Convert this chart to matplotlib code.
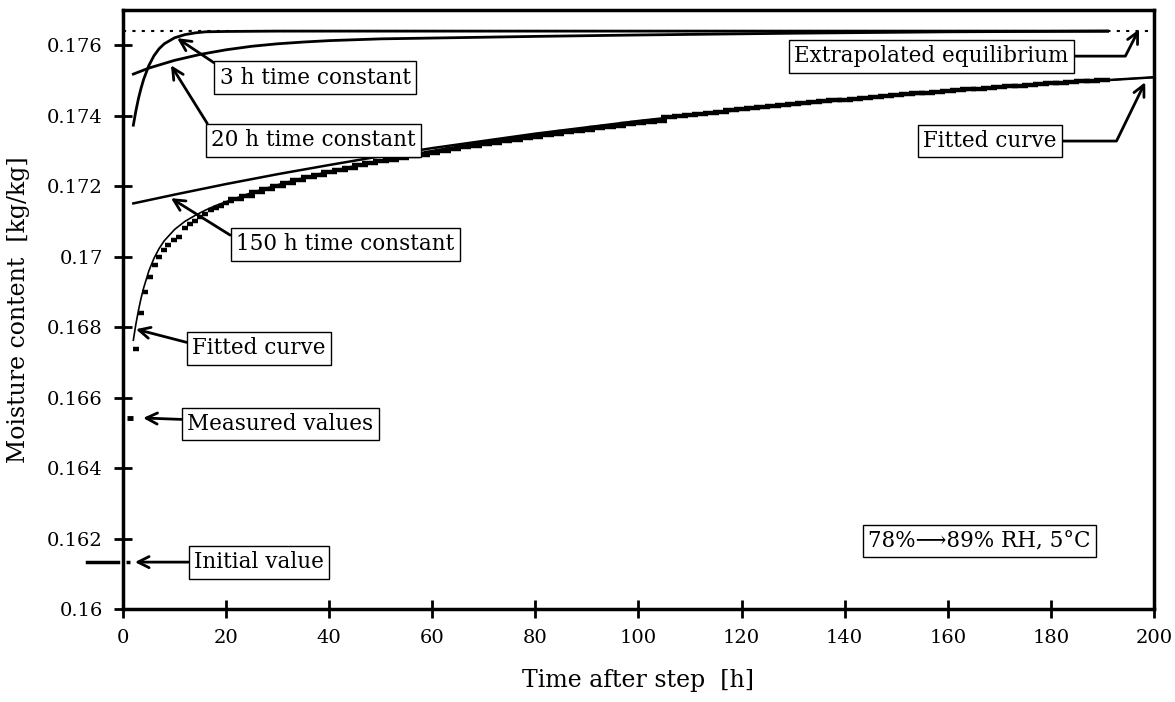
import matplotlib
matplotlib.use("Agg")
import matplotlib.pyplot as plt

plt.rcParams['font.family'] = ['DejaVu Serif', 'DejaVu Sans']

# values
t_fit = [2, 2.5, 3, 3.5, 4, 5, 6, 7, 8, 10, 12, 14, 16, 18, 20, 25, 30, 35, 40,
         50, 60, 70, 80, 90, 100, 120, 140, 160, 180, 200]
m_fit = [0.16763, 0.16809, 0.16848, 0.16882, 0.16911, 0.16959, 0.16995, 0.17023,
         0.17045, 0.17077, 0.17100, 0.17117, 0.17132, 0.17145, 0.17156, 0.17182,
         0.17204, 0.17224, 0.17242, 0.17274, 0.17301, 0.17325, 0.17347, 0.17366,
         0.17384, 0.17417, 0.17445, 0.17469, 0.17491, 0.17509]

t_3h = [2, 2.5, 3, 3.5, 4, 5, 6, 7, 8, 10, 12, 14, 16, 20, 30, 191]
m_3h = [0.17373, 0.17414, 0.17449, 0.17478, 0.17503, 0.17542, 0.17570, 0.17590,
        0.17604, 0.17621, 0.17630, 0.17635, 0.17638, 0.17639, 0.17640, 0.17640]

t_20h = [2, 5, 10, 15, 20, 25, 30, 35, 40, 50, 63, 80, 100, 130, 160, 191]
m_20h = [0.17518, 0.17535, 0.17557, 0.17574, 0.17587, 0.17597, 0.17604, 0.17609,
         0.17613, 0.17618, 0.17621, 0.17625, 0.17629, 0.17634, 0.17638, 0.17640]

t_150h = [2, 10, 20, 30, 40, 50, 60, 80, 100, 120, 140, 160, 180, 200]
m_150h = [0.17151, 0.17176, 0.17206, 0.17234, 0.17260, 0.17285, 0.17308, 0.17349,
          0.17385, 0.17417, 0.17445, 0.17469, 0.17491, 0.17509]

# measured, hourly at start
t_meas1 = [2.5, 3.4, 4.3, 5.2, 6.2, 7.0, 8.0, 8.8, 9.9, 10.8, 12, 13, 14, 15, 16,
           17, 18, 19, 20, 21]
m_meas1 = [0.16738, 0.16840, 0.16899, 0.16942, 0.16976, 0.16999, 0.17018, 0.17033,
           0.17047, 0.17055, 0.17080, 0.17092, 0.17102, 0.17113, 0.17122, 0.17131,
           0.17138, 0.17145, 0.17151, 0.17158]
# measured, later part (every 2 h)
t_meas2 = list(range(22, 191, 2))
m_meas2 = [0.171634, 0.171733, 0.171827, 0.171917, 0.172003, 0.172095, 0.172173,
           0.172249, 0.172321, 0.172391, 0.172459, 0.172524, 0.172587, 0.172648,
           0.172707, 0.172735, 0.172790, 0.172845, 0.172898, 0.172949, 0.173000,
           0.173049, 0.173097, 0.173144, 0.173190, 0.173235, 0.173279, 0.173322,
           0.173365, 0.173406, 0.173447, 0.173487, 0.173527, 0.173566, 0.173603,
           0.173641, 0.173678, 0.173714, 0.173750, 0.173785, 0.173819, 0.173853,
           0.173957, 0.173990, 0.174023, 0.174055, 0.174086, 0.174117, 0.174148,
           0.174178, 0.174208, 0.174237, 0.174266, 0.174295, 0.174323, 0.174351,
           0.174378, 0.174406, 0.174432, 0.174458, 0.174484, 0.174510, 0.174535,
           0.174560, 0.174585, 0.174610, 0.174633, 0.174657, 0.174680, 0.174703,
           0.174726, 0.174748, 0.174770, 0.174792, 0.174813, 0.174834, 0.174855,
           0.174876, 0.174896, 0.174916, 0.174936, 0.174956, 0.174975, 0.174994,
           0.175012]

m_eq = 0.1764
t_init = [-7, -1]
m_init = [0.16133, 0.16133]
m_legend_meas = 0.16542

fig = plt.figure(figsize=(11.75, 7.02), dpi=100)
ax = fig.add_axes([0.1047, 0.1325, 0.8774, 0.8533])

ax.plot([0, 200], [m_eq, m_eq], ls=(0, (1.5, 3)), color='black', lw=1.5)
ax.plot(t_3h, m_3h, color='black', lw=2)
ax.plot(t_20h, m_20h, color='black', lw=2)
ax.plot(t_150h, m_150h, color='black', lw=1.8)
ax.plot(t_fit, m_fit, color='black', lw=1.2)
ax.plot(t_meas1, m_meas1, ls='none', marker='_', ms=5, mew=3.2, color='black')
ax.plot(t_meas2, m_meas2, ls='none', marker='_', ms=11, mew=3.2, color='black')
ax.plot(t_init, m_init, color='black', lw=2.5, clip_on=False)
ax.plot([0.9], [m_init[0]], ls='none', marker='_', ms=3, mew=2.5, color='black')
ax.plot([1.4], [m_legend_meas], ls='none', marker='_', ms=5, mew=3.5, color='black')

box = dict(boxstyle='square,pad=0.25', fc='white', ec='black', lw=1)
fs = 15.5


def note(text, xy, xytext, rel, conn='arc3'):
    ax.annotate(text, xy=xy, xytext=xytext, ha='center', va='center', fontsize=fs,
                bbox=box,
                arrowprops=dict(arrowstyle='->', lw=2, color='black', mutation_scale=20,
                                relpos=rel, shrinkA=0, shrinkB=0,
                                connectionstyle=conn))


note('3 h time constant', (10.5, 0.17620), (37.3, 0.17508), (0, 1))
note('20 h time constant', (9.3, 0.17543), (36.9, 0.17330), (0, 1))
note('150 h time constant', (9.3, 0.17166), (43.1, 0.17035), (0, 0.75))
note('Fitted curve', (2.5, 0.16794), (26.4, 0.16740), (0, 0.7))
note('Measured values', (3.9, 0.16542), (30.5, 0.16525), (0, 0.7))
note('Initial value', (2.3, 0.16133), (26.4, 0.16133), (0, 0.5))
note('Extrapolated equilibrium', (197.1, 0.17645), (156.8, 0.17569), (1, 0.5),
     'angle,angleA=0,angleB=63,rad=0')
note('Fitted curve', (198.3, 0.17495), (168.2, 0.17328), (1, 0.5),
     'angle,angleA=0,angleB=64,rad=0')

ax.text(166.2, 0.16193, '78%\u27f689% RH, 5°C', ha='center', va='center',
        fontsize=fs, bbox=box)

ax.set_xlim(0, 200)
ax.set_ylim(0.16, 0.177)
ax.set_xticks(range(0, 201, 20))
yt = [0.16, 0.162, 0.164, 0.166, 0.168, 0.17, 0.172, 0.174, 0.176]
ax.set_yticks(yt)
ax.set_yticklabels(['%g' % v for v in yt])
ax.tick_params(direction='inout', length=13, width=2, labelsize=14, pad=8)
for s in ax.spines.values():
    s.set_linewidth(2.5)

ax.set_xlabel('Time after step  [h]', fontsize=17, labelpad=16)
ax.set_ylabel('Moisture content  [kg/kg]', fontsize=17, labelpad=12)

fig.savefig('out.png', dpi=100)
